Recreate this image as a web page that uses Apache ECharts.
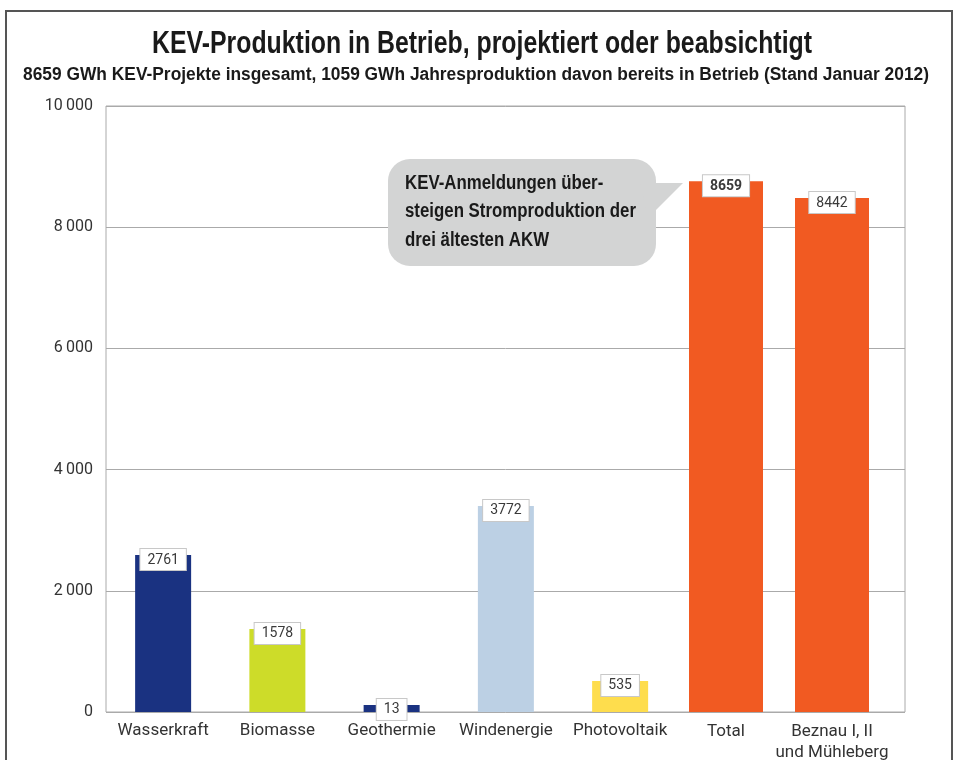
<!DOCTYPE html>
<html>
<head>
<meta charset="utf-8">
<script src="https://cdn.jsdelivr.net/npm/echarts@6/dist/echarts.min.js"></script>
<style>
html,body{margin:0;padding:0;background:#fff;}
#c{width:958px;height:760px;}
</style>
</head>
<body>
<div id="c"></div>
<script>
// ---- data ----
const categories = ['Wasserkraft', 'Biomasse', 'Geothermie', 'Windenergie', 'Photovoltaik', 'Total', 'Beznau I, II\nund Mühleberg'];
// bar heights as drawn in the picture (GWh)
const barHeights = [2590, 1370, 116, 3400, 512, 8760, 8480];
// values printed in the label boxes
const printedValues = ['2761', '1578', '13', '3772', '535', '8659', '8442'];
const yTicks = { min: 0, max: 10000, step: 2000 };
const titleText = 'KEV-Produktion in Betrieb, projektiert oder beabsichtigt';
const subtitleText = '8659 GWh KEV-Projekte insgesamt, 1059 GWh Jahresproduktion davon bereits in Betrieb (Stand Januar 2012)';
const calloutLines = ['KEV-Anmeldungen über-', 'steigen Stromproduktion der', 'drei ältesten AKW'];

// ---- styles ----
const barColors = ['#1a3281', '#cddc29', '#1a3281', '#bcd0e4', '#fedd4d', '#f15a22', '#f15a22'];
const headFont = '"Liberation Sans", Arial, sans-serif';
const din = 'Roboto, "Noto Sans", sans-serif';
const nGroup1 = 5;

// measure helper to emulate a condensed face by horizontal scaling
const mctx = document.createElement('canvas').getContext('2d');
function widthOf(text, font) { mctx.font = font; return mctx.measureText(text).width; }

const titleFont = 'bold 32px ' + headFont;
const subFont = 'bold 17.5px ' + headFont;
const calloutFont = 'bold 20px ' + headFont;
const titleScale = 660 / widthOf(titleText, titleFont);
const subScale = 906 / widthOf(subtitleText, subFont);
const calloutScale = 231 / widthOf(calloutLines[1], calloutFont);

const chart = echarts.init(document.getElementById('c'), null, { renderer: 'canvas' });

function labelCfg(offsetIdx) {
  return {
    show: true,
    position: 'insideTop',
    offset: [0, -11],
    formatter: p => printedValues[p.dataIndex + offsetIdx],
    backgroundColor: '#fff',
    borderColor: '#c8c8c8',
    borderWidth: 1,
    padding: [4, 7, 3, 7],
    color: '#3a3a3a',
    fontFamily: din,
    fontSize: 14
  };
}

function items(from, to) {
  return barHeights.slice(from, to).map((v, i) => ({
    value: v,
    itemStyle: { color: barColors[from + i] },
    label: (categories[from + i] === 'Total') ? { fontWeight: 'bold' } : undefined
  }));
}

const yHidden = (gi) => ({ type: 'value', gridIndex: gi, min: yTicks.min, max: yTicks.max, show: false, splitLine: { show: false } });
const catAxis = (gi, data, margin) => ({
  type: 'category', gridIndex: gi, data: data,
  axisLine: { show: false }, axisTick: { show: false },
  axisLabel: { color: '#333', fontFamily: din, fontSize: 17, margin: margin, lineHeight: 21, interval: 0 }
});

const calloutTexts = calloutLines.map((t, i) => ({
  type: 'text', x: 405, y: 183 + i * 28.5, scaleX: calloutScale, z: 6,
  style: { text: t, fill: '#1a1a1a', font: calloutFont, align: 'left', verticalAlign: 'middle' }
}));

chart.setOption({
  animation: false,
  grid: [
    { left: 106, right: 53, top: 106, bottom: 48, outerBoundsMode: 'none', containLabel: false, show: true, borderColor: '#aaa', borderWidth: 1, backgroundColor: 'transparent' },
    { left: 106, width: 571.25, top: 106, bottom: 48, outerBoundsMode: 'none', containLabel: false },
    { left: 673, width: 212, top: 106, bottom: 48, outerBoundsMode: 'none', containLabel: false }
  ],
  xAxis: [
    { type: 'value', gridIndex: 0, min: 0, max: 1, show: false },
    catAxis(1, categories.slice(0, nGroup1), 8),
    catAxis(2, categories.slice(nGroup1), 9)
  ],
  yAxis: [
    {
      type: 'value', gridIndex: 0, min: yTicks.min, max: yTicks.max, interval: yTicks.step,
      axisLine: { show: false }, axisTick: { show: false },
      splitLine: { lineStyle: { color: '#aaa', width: 1 } },
      axisLabel: {
        color: '#333', fontFamily: din, fontSize: 16, margin: 13,
        formatter: v => v >= 1000 ? String(v).replace(/(\d)(\d{3})$/, '$1\u2009$2') : String(v)
      }
    },
    yHidden(1), yHidden(2)
  ],
  series: [
    {
      type: 'bar', xAxisIndex: 1, yAxisIndex: 1, barWidth: 56,
      data: items(0, nGroup1), label: labelCfg(0), z: 3
    },
    {
      type: 'bar', xAxisIndex: 2, yAxisIndex: 2, barWidth: 74,
      data: items(nGroup1, categories.length), label: labelCfg(nGroup1), z: 3
    }
  ],
  graphic: [
    { type: 'rect', shape: { x: 6, y: 11, width: 946, height: 770 }, style: { fill: 'none', stroke: '#555', lineWidth: 2 }, z: 10 },
    {
      type: 'text', x: 482, y: 44, scaleX: titleScale, z: 6,
      style: { text: titleText, fill: '#1a1a1a', font: titleFont, align: 'center', verticalAlign: 'middle' }
    },
    {
      type: 'text', x: 476, y: 75, scaleX: subScale, z: 6,
      style: { text: subtitleText, fill: '#1a1a1a', font: subFont, align: 'center', verticalAlign: 'middle' }
    },
    { type: 'rect', shape: { x: 388, y: 159, width: 268, height: 107, r: 22 }, style: { fill: '#d3d4d4' }, z: 5 },
    { type: 'polygon', shape: { points: [[640, 183], [683, 183], [648, 218]] }, style: { fill: '#d3d4d4' }, z: 5 }
  ].concat(calloutTexts)
});
</script>
</body>
</html>
